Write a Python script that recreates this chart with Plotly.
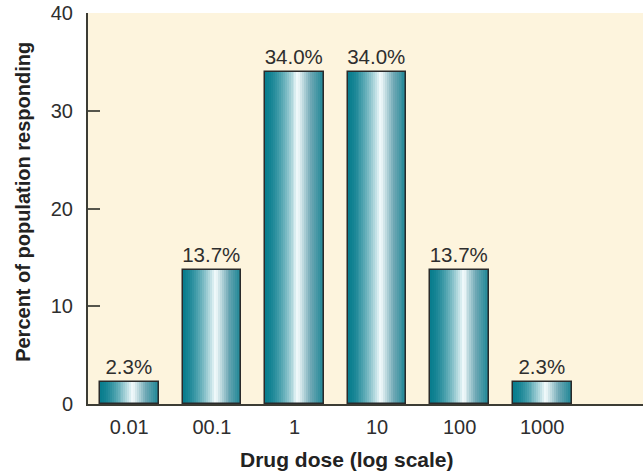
import plotly.graph_objects as go

categories = ["0.01", "00.1", "1", "10", "100", "1000"]
values = [2.3, 13.7, 34.0, 34.0, 13.7, 2.3]
labels = ["2.3%", "13.7%", "34.0%", "34.0%", "13.7%", "2.3%"]
ytick_vals = [0, 10, 20, 30, 40]
x_title = "Drug dose (log scale)"
y_title = "Percent of population responding"

xpos = list(range(len(categories)))
BAR_W = 0.71
N = 30
FONT = "Liberation Sans, Arial, Helvetica, sans-serif"

def lerp(a, b, t):
    return tuple(int(round(a[i] + (b[i] - a[i]) * t)) for i in range(3))

dark = (8, 125, 142)
mid = (110, 168, 180)
white = (245, 252, 253)
right = (25, 132, 148)

def grad(t):
    if t < 0.56:
        u = t / 0.56
        return lerp(dark, white, u ** 1.6)
    else:
        u = (t - 0.56) / 0.44
        if u < 0.5:
            return lerp(white, mid, u / 0.5)
        return lerp(mid, right, (u - 0.5) / 0.5)

fig = go.Figure()
for i in range(N):
    t = (i + 0.5) / N
    c = grad(t)
    fig.add_trace(go.Bar(
        x=xpos, y=values,
        width=BAR_W / N * 1.05,
        offset=-BAR_W / 2 + i * BAR_W / N,
        marker=dict(color="rgb(%d,%d,%d)" % c, line=dict(width=0)),
        hoverinfo="skip", showlegend=False,
    ))

fig.add_trace(go.Bar(
    x=xpos, y=values, width=BAR_W, offset=-BAR_W / 2,
    marker=dict(color="rgba(0,0,0,0)", line=dict(color="#2a2a2a", width=1.5)),
    text=labels, textposition="outside", cliponaxis=False, constraintext="none",
    textfont=dict(size=20.5, color="#2e2e2e", family=FONT),
    showlegend=False,
))

fig.update_layout(
    width=643, height=471,
    margin=dict(l=88, r=0, t=13, b=67),
    paper_bgcolor="white",
    plot_bgcolor="#FDF4DD",
    barmode="overlay",
    bargap=0,
    font=dict(family=FONT, size=20, color="#2e2e2e"),
    xaxis=dict(
        range=[-0.5, 6.22],
        tickvals=xpos, ticktext=categories,
        showgrid=False, zeroline=False,
        showline=True, linecolor="#3c3c34", linewidth=2,
        ticks="", ticklabelstandoff=4,
        tickfont=dict(size=20, color="#2e2e2e", family=FONT),
    ),
    yaxis=dict(
        range=[0, 40],
        tickvals=ytick_vals,
        showgrid=False, zeroline=False,
        showline=True, linecolor="#3c3c34", linewidth=2,
        ticks="inside", ticklen=12, tickwidth=2, tickcolor="#55554c",
        ticklabelstandoff=9, ticklabeloverflow="allow",
        tickfont=dict(size=20, color="#2e2e2e", family=FONT),
    ),
    annotations=[
        dict(text="<b>%s</b>" % x_title, xref="paper", yref="paper",
             x=0.467, y=0, xanchor="center", yanchor="middle", yshift=-55,
             showarrow=False, font=dict(size=21, color="#222222", family=FONT)),
        dict(text="<b>%s</b>" % y_title, xref="paper", yref="paper",
             x=0, y=0.517, xanchor="center", yanchor="middle", xshift=-65,
             textangle=-90, showarrow=False,
             font=dict(size=20, color="#222222", family=FONT)),
    ],
)

# remove the browser's default 8px body margin so the figure fills the window
fig.write_html(
    "out.html",
    config={"displayModeBar": False},
    post_script="document.body.style.margin='0';document.body.style.overflow='hidden';",
)
